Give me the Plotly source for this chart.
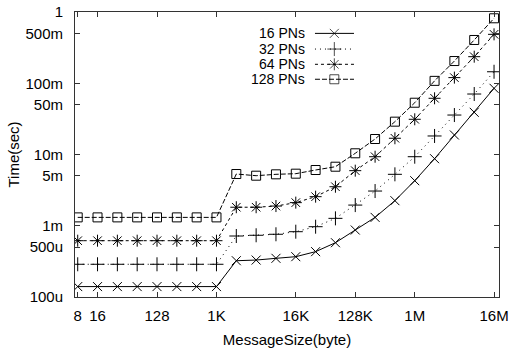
import plotly.graph_objects as go

sizes = [8, 16, 32, 64, 128, 256, 512, 1024, 2048, 4096, 8192, 16384, 32768,
         65536, 131072, 262144, 524288, 1048576, 2097152, 4194304, 8388608, 16777216]

pn16 = [1.40e-4, 1.40e-4, 1.40e-4, 1.40e-4, 1.40e-4, 1.40e-4, 1.40e-4, 1.40e-4,
        3.23e-4, 3.30e-4, 3.49e-4, 3.68e-4, 4.33e-4, 5.78e-4, 8.71e-4, 1.31e-3,
        2.25e-3, 4.29e-3, 8.73e-3, 1.88e-2, 3.91e-2, 8.49e-2]
pn32 = [2.88e-4, 2.88e-4, 2.88e-4, 2.88e-4, 2.88e-4, 2.88e-4, 2.88e-4, 2.88e-4,
        7.18e-4, 7.35e-4, 7.59e-4, 8.25e-4, 9.70e-4, 1.27e-3, 1.95e-3, 3.07e-3,
        5.27e-3, 9.31e-3, 1.82e-2, 3.58e-2, 7.06e-2, 0.145]
pn64 = [6.17e-4, 6.17e-4, 6.17e-4, 6.17e-4, 6.17e-4, 6.17e-4, 6.17e-4, 6.17e-4,
        1.82e-3, 1.82e-3, 1.89e-3, 2.11e-3, 2.56e-3, 3.53e-3, 5.93e-3, 9.31e-3,
        1.69e-2, 3.12e-2, 6.15e-2, 0.120, 0.236, 0.486]
pn128 = [1.31e-3, 1.31e-3, 1.31e-3, 1.31e-3, 1.31e-3, 1.31e-3, 1.31e-3, 1.31e-3,
         5.32e-3, 5.04e-3, 5.27e-3, 5.38e-3, 6.06e-3, 6.74e-3, 1.04e-2, 1.65e-2,
         2.89e-2, 5.33e-2, 0.108, 0.205, 0.405, 0.816]

series_names = ["16 PNs", "32 PNs", "64 PNs", "128 PNs"]
series_vals = [pn16, pn32, pn64, pn128]
symbols = ["x-thin-open", "cross-thin-open", "asterisk-open", "square-open"]
msizes = [9, 10, 10, 9]
dashes = ["solid", "1px,4px", "3px,3px", "5px,2px"]

x_tickvals = [8, 16, 128, 1024, 16384, 131072, 1048576, 16777216]
x_ticktext = ["8", "16", "128", "1K", "16K", "128K", "1M", "16M"]
y_tickvals = [1e-4, 5e-4, 1e-3, 5e-3, 1e-2, 5e-2, 1e-1, 5e-1, 1]
y_ticktext = ["100u", "500u", "1m", "5m", "10m", "50m", "100m", "500m", "1"]

FONT = "Liberation Sans, Arial, sans-serif"
FS = 15
ink = "black"

fig = go.Figure()
for name, vals, sym, ms, dash in zip(series_names, series_vals, symbols, msizes, dashes):
    fig.add_trace(go.Scatter(
        x=sizes, y=vals, mode="lines+markers", name=name, showlegend=False,
        line=dict(color=ink, width=1, dash=dash),
        marker=dict(symbol=sym, size=ms, color=ink, line=dict(color=ink, width=1)),
    ))

# custom legend (text right-aligned, sample to the right), gnuplot style
leg_rows = [0.925, 0.870, 0.8165, 0.764]
text_x = 0.5465
line_x0, line_xm, line_x1 = 0.566, 0.6116, 0.658
for name, sym, ms, dash, yr in zip(series_names, symbols, msizes, dashes, leg_rows):
    fig.add_annotation(x=text_x, y=yr, xref="paper", yref="paper", text=name,
                       showarrow=False, xanchor="right", yanchor="middle",
                       font=dict(family=FONT, size=14, color=ink))
    fig.add_shape(type="line", xref="paper", yref="paper", x0=line_x0, x1=line_x1,
                  y0=yr, y1=yr, line=dict(color=ink, width=1, dash=dash))
fig.add_trace(go.Scatter(
    x=[line_xm] * 4, y=leg_rows, xaxis="x2", yaxis="y2", mode="markers",
    showlegend=False, hoverinfo="skip",
    marker=dict(symbol=symbols, size=msizes, color=ink, line=dict(color=ink, width=1)),
))

axis_common = dict(showgrid=False, zeroline=False, showline=True, linecolor="#333",
                   linewidth=1, mirror="ticks", ticks="inside", ticklen=5,
                   tickcolor="#333", tickwidth=1, automargin=False,
                   tickfont=dict(family=FONT, size=FS, color=ink))

fig.update_layout(
    width=510, height=350,
    margin=dict(l=75, r=11, t=12, b=53),
    paper_bgcolor="white", plot_bgcolor="white",
    font=dict(family=FONT, size=FS, color=ink),
    xaxis=dict(type="log", range=[0.862, 7.300], tickvals=x_tickvals, ticktext=x_ticktext,
               title=dict(text="MessageSize(byte)", standoff=11,
                          font=dict(family=FONT, size=FS, color=ink)),
               ticklabelstandoff=5, **axis_common),
    yaxis=dict(type="log", range=[-4, 0], tickvals=y_tickvals, ticktext=y_ticktext,
               title=dict(text="Time(sec)", standoff=2,
                          font=dict(family=FONT, size=FS, color=ink)),
               ticklabelstandoff=8, **axis_common),
    xaxis2=dict(overlaying="x", range=[0, 1], visible=False, fixedrange=True),
    yaxis2=dict(overlaying="y", range=[0, 1], visible=False, fixedrange=True),
)

fig.write_html("out.html")
